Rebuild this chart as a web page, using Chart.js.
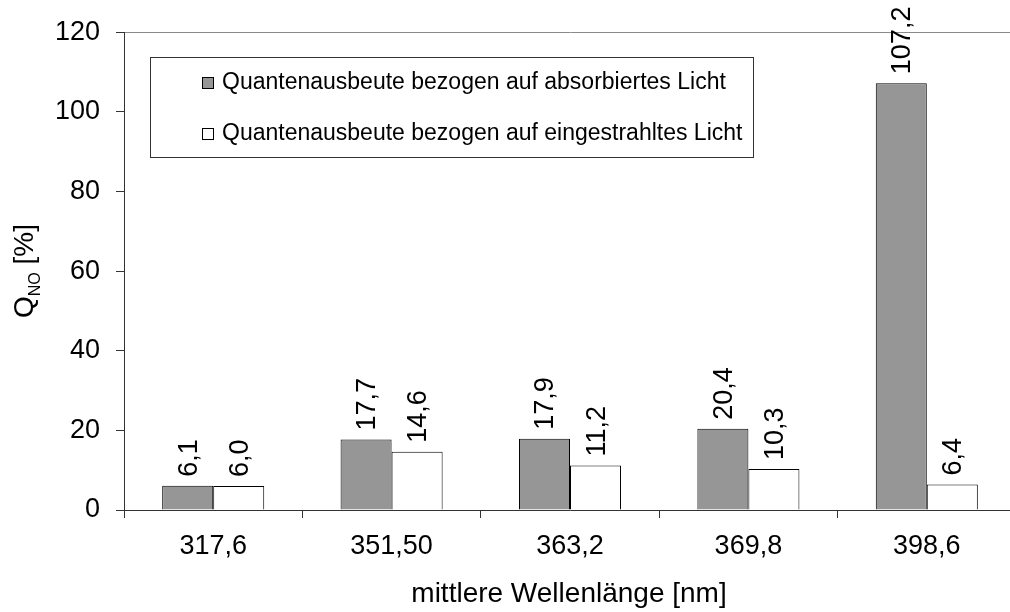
<!DOCTYPE html>
<html>
<head>
<meta charset="utf-8">
<script src="https://cdn.jsdelivr.net/npm/chart.js@4.4.1/dist/chart.umd.min.js"></script>
<style>
  html, body { margin: 0; padding: 0; background: #fff; width: 1010px; height: 612px; overflow: hidden; }
  #frame { width: 1010px; height: 612px; overflow: hidden; position: relative; }
  #wrap { position: absolute; left: 0; top: 0; width: 1016px; height: 612px; }
</style>
</head>
<body>
<div id="frame"><div id="wrap"><canvas id="chart-quantenausbeute"></canvas></div></div>
<script>
// Kategorien (mittlere Wellenlänge in nm)
const wellenlaengen = ['317,6', '351,50', '363,2', '369,8', '398,6'];
// Quantenausbeute Q_NO in %
const absorbiert = [6.1, 17.7, 17.9, 20.4, 107.2];
const eingestrahlt = [6.0, 14.6, 11.2, 10.3, 6.4];
const yTicks = [0, 20, 40, 60, 80, 100, 120];

const FONT = '"Liberation Sans", Arial, sans-serif';
Chart.defaults.font.family = FONT;
Chart.defaults.color = '#000';

const fmt = v => v.toFixed(1).replace('.', ',');

// Werte senkrecht über den Balken, Legende im Diagramm, Achsentitel
const beschriftung = {
  id: 'beschriftung',
  afterDatasetsDraw(chart) {
    const ctx = chart.ctx;
    ctx.save();
    ctx.fillStyle = '#000';
    ctx.font = '27px ' + FONT;
    ctx.textAlign = 'left';
    ctx.textBaseline = 'alphabetic';
    chart.data.datasets.forEach((ds, i) => {
      chart.getDatasetMeta(i).data.forEach((bar, j) => {
        ctx.save();
        ctx.translate(bar.x + 9, bar.y - 9);
        ctx.rotate(-Math.PI / 2);
        ctx.fillText(fmt(ds.data[j]), 0, 0);
        ctx.restore();
      });
    });
    ctx.restore();
  },
  afterDraw(chart) {
    const ctx = chart.ctx;
    const area = chart.chartArea;
    ctx.save();

    // Legende
    ctx.strokeStyle = '#333';
    ctx.lineWidth = 1;
    ctx.fillStyle = '#fff';
    ctx.fillRect(150.5, 57.5, 603, 100);
    ctx.strokeRect(150.5, 57.5, 603, 100);
    ctx.font = '23px ' + FONT;
    ctx.textBaseline = 'middle';
    chart.data.datasets.forEach((ds, i) => {
      const y = 83 + i * 51;
      ctx.fillStyle = ds.backgroundColor;
      ctx.fillRect(202.5, y - 5.5, 11, 11);
      ctx.strokeStyle = '#000';
      ctx.strokeRect(202.5, y - 5.5, 11, 11);
      ctx.fillStyle = '#000';
      ctx.fillText(ds.label, 222, y);
    });

    // x-Achsentitel
    ctx.font = '28px ' + FONT;
    ctx.textAlign = 'center';
    ctx.textBaseline = 'alphabetic';
    ctx.fillText('mittlere Wellenlänge [nm]', (area.left + area.right) / 2 - 1, 602);

    // y-Achsentitel Q_NO [%]
    const big = '28px ' + FONT, small = '16px ' + FONT;
    ctx.font = big;
    const wQ = ctx.measureText('Q').width;
    const wRest = ctx.measureText(' [%]').width;
    ctx.font = small;
    const wNO = ctx.measureText('NO').width;
    const total = wQ + wNO + wRest;
    ctx.translate(33, 271 + total / 2);
    ctx.rotate(-Math.PI / 2);
    ctx.textAlign = 'left';
    ctx.font = big;
    ctx.fillText('Q', 0, 0);
    ctx.font = small;
    ctx.fillText('NO', wQ, 7);
    ctx.font = big;
    ctx.fillText(' [%]', wQ + wNO, 0);
    ctx.restore();
  }
};

const ctx = document.getElementById('chart-quantenausbeute').getContext('2d');
new Chart(ctx, {
  type: 'bar',
  data: {
    labels: wellenlaengen,
    datasets: [
      {
        label: 'Quantenausbeute bezogen auf absorbiertes Licht',
        data: absorbiert,
        backgroundColor: '#969696',
        borderColor: '#000',
        borderWidth: 1
      },
      {
        label: 'Quantenausbeute bezogen auf eingestrahltes Licht',
        data: eingestrahlt,
        backgroundColor: '#ffffff',
        borderColor: '#000',
        borderWidth: 1
      }
    ]
  },
  options: {
    responsive: true,
    maintainAspectRatio: false,
    animation: false,
    layout: { padding: { top: 32, left: 0, right: 0, bottom: 0 } },
    plugins: {
      legend: { display: false },
      tooltip: { enabled: false }
    },
    datasets: {
      bar: { categoryPercentage: 0.572, barPercentage: 1 }
    },
    scales: {
      x: {
        afterFit: s => { s.height = 102; },
        border: { color: '#333', width: 1 },
        grid: { offset: true, drawOnChartArea: false, tickLength: 8, tickColor: '#333' },
        ticks: { font: { size: 27 }, color: '#000', padding: 12, maxRotation: 0 }
      },
      y: {
        min: 0,
        max: 120,
        afterFit: s => { s.width = 124; },
        afterBuildTicks: s => { s.ticks = yTicks.map(v => ({ value: v })); },
        border: { color: '#333', width: 1 },
        grid: {
          color: c => (c.tick && c.tick.value === 120 ? '#8a8a8a' : 'rgba(0,0,0,0)'),
          tickColor: '#333',
          tickLength: 8
        },
        ticks: { font: { size: 27 }, color: '#000', padding: 16 }
      }
    }
  },
  plugins: [beschriftung]
});
</script>
</body>
</html>
